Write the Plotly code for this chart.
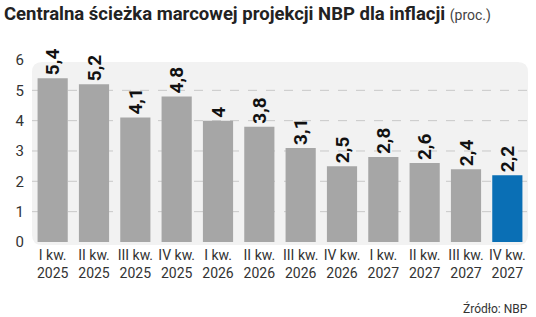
import plotly.graph_objects as go

categories = ["I kw.<br>2025", "II kw.<br>2025", "III kw.<br>2025", "IV kw.<br>2025",
              "I kw.<br>2026", "II kw.<br>2026", "III kw.<br>2026", "IV kw.<br>2026",
              "I kw.<br>2027", "II kw.<br>2027", "III kw.<br>2027", "IV kw.<br>2027"]
values = [5.4, 5.2, 4.1, 4.8, 4.0, 3.8, 3.1, 2.5, 2.8, 2.6, 2.4, 2.2]
y_ticks = [0, 1, 2, 3, 4, 5, 6]

FONT = "Roboto"
GRAY = "#a6a6a6"
BLUE = "#0a6fb5"
colors = [GRAY] * (len(values) - 1) + [BLUE]
labels = [f"{v:g}".replace(".", ",") for v in values]
xs = list(range(len(values)))

fig = go.Figure()
fig.add_trace(go.Bar(
    x=xs, y=values, marker=dict(color=colors, line=dict(width=0)),
    width=0.73,
    text=labels, textposition="outside", textangle=-90,
    textfont=dict(family=FONT, size=19, color="#111111", weight="bold"),
    constraintext="none", cliponaxis=False, hoverinfo="skip",
))

# rounded background panel
x0, x1, y0, y1 = -0.5, 11.5, -0.1, 5.93
rx, ry = 0.25, 0.33
path = (f"M {x0+rx},{y0} L {x1-rx},{y0} Q {x1},{y0} {x1},{y0+ry} "
        f"L {x1},{y1-ry} Q {x1},{y1} {x1-rx},{y1} L {x0+rx},{y1} "
        f"Q {x0},{y1} {x0},{y1-ry} L {x0},{y0+ry} Q {x0},{y0} {x0+rx},{y0} Z")
shapes = [dict(type="path", path=path, xref="x", yref="y", fillcolor="#f2f2f2",
               line=dict(width=0), layer="below")]
for t in y_ticks[1:-1]:
    shapes.append(dict(type="line", xref="x", yref="y", x0=x0, x1=x1, y0=t, y1=t,
                       line=dict(color="#c8c8c8", width=1, dash="dash"), layer="below"))

fig.update_layout(
    width=536, height=317,
    margin=dict(l=32, r=8, t=60, b=72),
    paper_bgcolor="white", plot_bgcolor="rgba(0,0,0,0)",
    showlegend=False, bargap=0.27,
    shapes=shapes,
    font=dict(family=FONT, color="#333333"),
    xaxis=dict(range=[-0.5, 11.5], tickmode="array", tickvals=xs, ticktext=categories,
               showgrid=False, zeroline=False, showline=False, tickangle=0,
               tickfont=dict(family=FONT, size=14, color="#333333")),
    yaxis=dict(range=[-0.1, 6], tickmode="array", tickvals=y_ticks,
               ticktext=[str(t) for t in y_ticks], showgrid=False, zeroline=False,
               showline=False, ticklabelstandoff=7,
               tickfont=dict(family=FONT, size=15, color="#333333")),
    annotations=[
        dict(text="<b>Centralna ścieżka marcowej projekcji NBP dla inflacji</b> "
                  "<span style='font-size:14px;color:#444444'>(proc.)</span>",
             xref="paper", yref="paper", x=0, y=1, xanchor="left", yanchor="top",
             xshift=-30, yshift=59, showarrow=False,
             font=dict(family=FONT, size=18.5, color="#222222")),
        dict(text="Źródło: NBP", xref="paper", yref="paper", x=1, y=0,
             xanchor="right", yanchor="middle", xshift=2, yshift=-63, showarrow=False,
             font=dict(family=FONT, size=12, color="#333333")),
    ],
)

fig.write_html("out.html")
